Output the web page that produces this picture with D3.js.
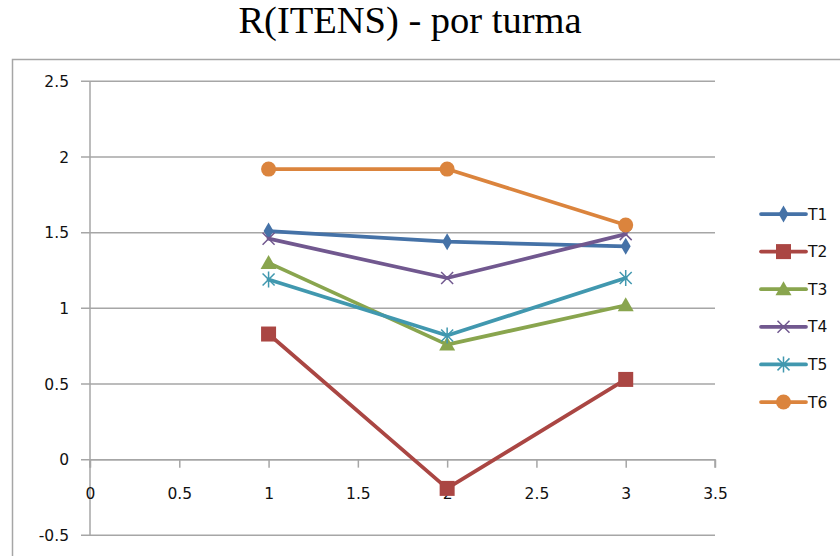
<!DOCTYPE html>
<html>
<head>
<meta charset="utf-8">
<script src="https://cdn.jsdelivr.net/npm/d3@7"></script>
<style>
  html, body { margin: 0; padding: 0; background: #fff; }
  svg { display: block; }
</style>
</head>
<body>
<svg id="chart" width="840" height="556"></svg>
<script>
// Turmas and their R(ITENS) values at x = 1, 2, 3
const xValues = [1, 2, 3];
const seriesNames = ["T1", "T2", "T3", "T4", "T5", "T6"];
const t1 = [1.51, 1.44, 1.41];
const t2 = [0.83, -0.19, 0.53];
const t3 = [1.30, 0.76, 1.02];
const t4 = [1.46, 1.20, 1.49];
const t5 = [1.19, 0.82, 1.20];
const t6 = [1.92, 1.92, 1.55];
const seriesValues = [t1, t2, t3, t4, t5, t6];
const colors = ["#4572A7", "#AA4643", "#89A54E", "#71588F", "#4198AF", "#DB843D"];
const markers = ["diamond", "square", "triangle", "cross", "star", "circle"];
const xTicks = [0, 0.5, 1, 1.5, 2, 2.5, 3, 3.5];
const yTicks = [-0.5, 0, 0.5, 1, 1.5, 2, 2.5];

const svg = d3.select("#chart");
const tickFont = "'DejaVu Sans', Verdana, sans-serif";
const tickSize = 15.5;
const axisColor = "#a6a6a6";

// Outer chart-area frame
svg.append("rect")
  .attr("x", 12.5).attr("y", 59.5)
  .attr("width", 900).attr("height", 600)
  .attr("fill", "none").attr("stroke", "#a6a6a6").attr("stroke-width", 1.5);

// Title
svg.append("text")
  .attr("x", 410).attr("y", 33)
  .attr("text-anchor", "middle")
  .attr("font-family", "'Liberation Serif', 'Times New Roman', serif")
  .attr("font-size", 38.5)
  .attr("fill", "#000")
  .text("R(ITENS) - por turma");

const x = d3.scaleLinear().domain([0, 3.5]).range([90, 715]);
const y = d3.scaleLinear().domain([-0.5, 2.5]).range([535.3, 81.3]);

// Horizontal gridlines, each starting with a short stub left of the axis
svg.append("g").selectAll("line").data(yTicks).join("line")
  .attr("x1", x(0) - 9).attr("x2", x(3.5))
  .attr("y1", d => y(d)).attr("y2", d => y(d))
  .attr("stroke", axisColor).attr("stroke-width", 1.5);

// Y tick labels
svg.append("g").selectAll("text").data(yTicks).join("text")
  .attr("x", 69).attr("y", d => y(d))
  .attr("dy", "0.36em")
  .attr("text-anchor", "end")
  .attr("font-family", tickFont).attr("font-size", tickSize).attr("fill", "#111")
  .text(d => String(d));

// Vertical axis line at x = 0
svg.append("line")
  .attr("x1", x(0)).attr("x2", x(0))
  .attr("y1", y(2.5)).attr("y2", y(-0.5))
  .attr("stroke", axisColor).attr("stroke-width", 1.5);

// Horizontal axis crossing at y = 0, ticks pointing down
const xAxis = d3.axisBottom(x).tickValues(xTicks).tickSize(8).tickFormat(d => String(d));
const gX = svg.append("g").attr("transform", `translate(0,${y(0)})`).call(xAxis);
gX.attr("font-family", null).attr("font-size", null);
gX.select(".domain").attr("stroke", axisColor).attr("stroke-width", 1.5)
  .attr("d", `M${x(0)},8V0H${x(3.5)}V8`);
gX.selectAll(".tick line").attr("stroke", axisColor).attr("stroke-width", 1.5);
gX.selectAll(".tick text")
  .attr("y", 39.5).attr("dy", "0")
  .attr("font-family", tickFont).attr("font-size", tickSize).attr("fill", "#111");

// Marker drawing helper
function drawMarker(g, type, cx, cy, color) {
  switch (type) {
    case "diamond":
      g.append("path").attr("d", d3.symbol(d3.symbolDiamond, 85)())
        .attr("transform", `translate(${cx},${cy})`).attr("fill", color);
      break;
    case "square":
      g.append("rect").attr("x", cx - 7.5).attr("y", cy - 7.5)
        .attr("width", 15).attr("height", 15).attr("fill", color);
      break;
    case "triangle":
      g.append("path").attr("d", `M${cx},${cy - 8}L${cx + 8},${cy + 6}L${cx - 8},${cy + 6}Z`)
        .attr("fill", color);
      break;
    case "cross":
      g.append("path").attr("d", `M${cx - 6},${cy - 6}L${cx + 6},${cy + 6}M${cx + 6},${cy - 6}L${cx - 6},${cy + 6}`)
        .attr("stroke", color).attr("stroke-width", 1.5).attr("fill", "none");
      break;
    case "star":
      g.append("path").attr("d",
        `M${cx - 6},${cy - 6}L${cx + 6},${cy + 6}M${cx + 6},${cy - 6}L${cx - 6},${cy + 6}M${cx},${cy - 8}L${cx},${cy + 8}`)
        .attr("stroke", color).attr("stroke-width", 1.5).attr("fill", "none");
      break;
    case "circle":
      g.append("circle").attr("cx", cx).attr("cy", cy).attr("r", 7.5).attr("fill", color);
      break;
  }
}

const line = d3.line().x((d, i) => x(xValues[i])).y(d => y(d));

// Series lines and markers
seriesValues.forEach((vals, s) => {
  const g = svg.append("g");
  g.append("path").datum(vals)
    .attr("d", line)
    .attr("fill", "none")
    .attr("stroke", colors[s])
    .attr("stroke-width", 3.75)
    .attr("stroke-linejoin", "round")
    .attr("stroke-linecap", "round");
  vals.forEach((v, i) => drawMarker(g, markers[s], x(xValues[i]), y(v), colors[s]));
});

// Legend
const legendY = d3.scalePoint().domain(seriesNames).range([214, 402]);
seriesNames.forEach((name, s) => {
  const g = svg.append("g");
  const ly = legendY(name);
  g.append("line")
    .attr("x1", 761).attr("x2", 806).attr("y1", ly).attr("y2", ly)
    .attr("stroke", colors[s]).attr("stroke-width", 3.75).attr("stroke-linecap", "round");
  drawMarker(g, markers[s], 783.5, ly, colors[s]);
  g.append("text")
    .attr("x", 808).attr("y", ly).attr("dy", "0.36em")
    .attr("font-family", tickFont).attr("font-size", tickSize).attr("fill", "#111")
    .text(name);
});
</script>
</body>
</html>
